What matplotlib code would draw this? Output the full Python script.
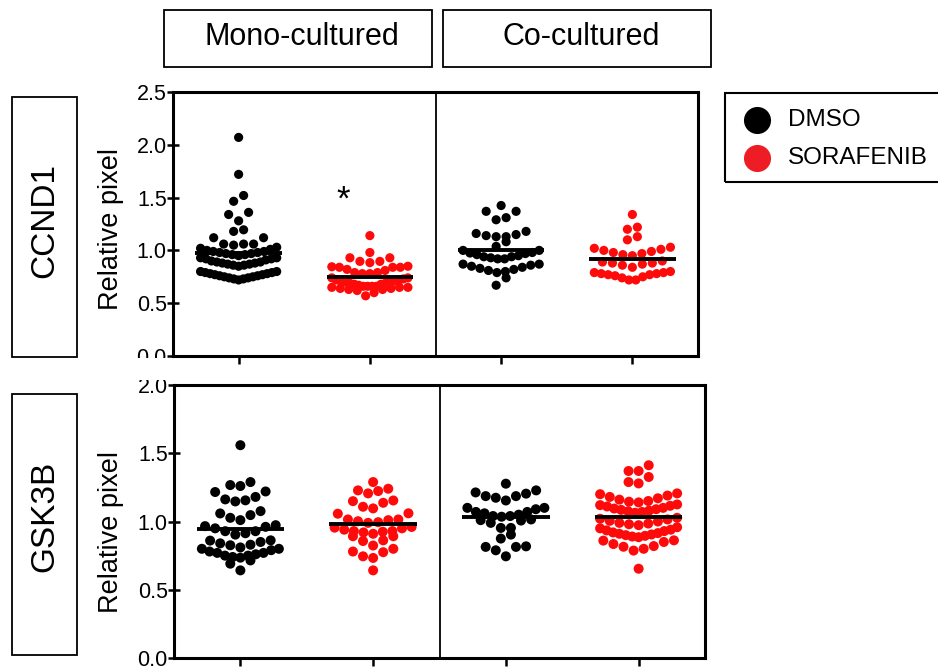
import matplotlib.pyplot as plt
from matplotlib.patches import Rectangle
from matplotlib.lines import Line2D
import numpy as np

plt.rcParams['font.family'] = ['Liberation Sans', 'DejaVu Sans']

# data (relative pixel intensity per cell)
conditions = ['Mono-cultured', 'Co-cultured']
treatments = ['DMSO', 'SORAFENIB']
genes = ['CCND1', 'GSK3B']

ccnd1_mono_dmso = [0.72, 0.73, 0.73, 0.74, 0.74, 0.75, 0.75, 0.76, 0.76, 0.77, 0.77, 0.78, 0.78,
                   0.79, 0.79, 0.80, 0.80,
                   0.85, 0.86, 0.86, 0.87, 0.87, 0.88, 0.88, 0.89, 0.89, 0.90, 0.91, 0.92, 0.92,
                   0.93, 0.93,
                   0.95, 0.96, 0.96, 0.97, 0.97, 0.98, 0.98, 0.99, 0.99, 1.00, 1.01, 1.02, 1.03,
                   1.05, 1.06, 1.06, 1.06, 1.12, 1.12, 1.18, 1.195, 1.28, 1.34, 1.36,
                   1.465, 1.52, 1.72, 2.07]
ccnd1_mono_sora = [0.57, 0.60, 0.62, 0.63, 0.63, 0.64, 0.64, 0.65, 0.65, 0.65, 0.66, 0.66, 0.66, 0.66,
                   0.67, 0.68, 0.68, 0.69, 0.69, 0.70, 0.70, 0.71, 0.71, 0.72, 0.72, 0.73, 0.74, 0.74,
                   0.78, 0.78, 0.79, 0.79, 0.81, 0.82, 0.84, 0.84, 0.84, 0.845, 0.85,
                   0.884, 0.896, 0.896, 0.93, 0.93, 0.98, 1.14]
ccnd1_co_dmso = [0.67, 0.74,
                 0.79, 0.80, 0.81, 0.82, 0.83, 0.84, 0.85, 0.86, 0.87, 0.87,
                 0.92, 0.92, 0.93, 0.94, 0.94, 0.95, 0.96, 0.97, 0.975, 0.98, 1.00, 1.00,
                 1.038, 1.082, 1.13, 1.13, 1.14, 1.15, 1.16, 1.18,
                 1.29, 1.31, 1.37, 1.37, 1.425]
ccnd1_co_sora = [0.72, 0.72, 0.74, 0.75, 0.76, 0.77, 0.77, 0.78, 0.78, 0.79, 0.79, 0.80,
                 0.84, 0.86, 0.87, 0.88, 0.88, 0.89, 0.90,
                 0.95, 0.96, 0.97, 0.98, 0.99, 1.00, 1.01, 1.02, 1.03,
                 1.10, 1.13, 1.20, 1.22, 1.34]

gsk3b_mono_dmso = [0.642, 0.691, 0.715,
                   0.735, 0.74, 0.75, 0.75, 0.76, 0.77, 0.77, 0.78, 0.79, 0.80, 0.80, 0.81,
                   0.826, 0.83, 0.84, 0.85, 0.86, 0.862,
                   0.904, 0.914, 0.929, 0.929, 0.95, 0.961, 0.966, 0.973,
                   1.01, 1.027, 1.047, 1.059, 1.076,
                   1.147, 1.155, 1.162, 1.18, 1.216, 1.22,
                   1.26, 1.267, 1.289, 1.559]
gsk3b_mono_sora = [0.642,
                   0.733, 0.745, 0.775, 0.78, 0.80,
                   0.824, 0.857, 0.862, 0.892, 0.892,
                   0.91, 0.92, 0.925, 0.93, 0.93, 0.94, 0.95, 0.955, 0.96,
                   0.99, 0.995, 1.002, 1.01, 1.015, 1.015, 1.057, 1.06,
                   1.096, 1.108, 1.137, 1.149, 1.154,
                   1.206, 1.223, 1.228, 1.24, 1.289]
gsk3b_co_dmso = [0.745, 0.789, 0.814, 0.814, 0.818,
                 0.875, 0.904,
                 0.953, 0.953, 0.99, 1.007, 1.01, 1.015,
                 1.035, 1.04, 1.04, 1.05, 1.06, 1.07, 1.07, 1.09, 1.10, 1.10,
                 1.154, 1.174, 1.186, 1.186, 1.204, 1.213, 1.228, 1.277]
gsk3b_co_sora = [0.654,
                 0.787, 0.80, 0.815, 0.82, 0.835, 0.85, 0.86, 0.862,
                 0.885, 0.89, 0.895, 0.90, 0.905, 0.91, 0.915, 0.92, 0.93, 0.935, 0.94, 0.95, 0.958,
                 0.973, 0.98, 0.985, 0.99, 1.00, 1.005, 1.015, 1.02, 1.027,
                 1.064, 1.07, 1.075, 1.08, 1.085, 1.09, 1.095, 1.10, 1.11, 1.115, 1.12, 1.125,
                 1.14, 1.145, 1.15, 1.16, 1.17, 1.18, 1.19, 1.20, 1.206,
                 1.279, 1.289, 1.326, 1.37, 1.37, 1.412]

ccnd1_groups = [ccnd1_mono_dmso, ccnd1_mono_sora, ccnd1_co_dmso, ccnd1_co_sora]
gsk3b_groups = [gsk3b_mono_dmso, gsk3b_mono_sora, gsk3b_co_dmso, gsk3b_co_sora]
colors = ['#000000', '#ff0a0a', '#000000', '#ff0a0a']

W, H = 938, 668


def px_rect(x0, y0, x1, y1):
    # pixel box (top-left origin) -> figure fraction [l, b, w, h]
    return [x0 / W, 1 - y1 / H, (x1 - x0) / W, (y1 - y0) / H]


def fx(x):
    return x / W


def fy(y):
    return 1 - y / H


def row_scatter(vals, h, step, half_w):
    # Prism-like layout: values binned into rows, lowest of each row in the middle
    v = np.sort(np.asarray(vals, dtype=float))
    dx = np.zeros_like(v)
    i = 0
    while i < len(v):
        j = i
        while j < len(v) and v[j] - v[i] <= h:
            j += 1
        n = j - i
        sp = step if n == 1 else min(step, 2 * half_w / (n - 1))
        slots = (np.arange(n) - (n - 1) / 2) * sp
        order = np.argsort(np.abs(slots), kind='stable')
        dx[i:j] = slots[order]
        i = j
    return dx, v


fig = plt.figure(figsize=(W / 100, H / 100), dpi=100)

panels = [
    (ccnd1_groups, px_rect(173, 92, 698, 356), 2.5, 0.085, 6.6),
    (gsk3b_groups, px_rect(174, 385, 705, 658), 2.0, 0.075, 7.2),
]

axes = []
for groups, rect, ymax, h, ms in panels:
    ax = fig.add_axes(rect)
    for i, vals in enumerate(groups):
        dx, v = row_scatter(vals, h, 0.076, 0.29)
        ax.scatter(i + dx, v, s=ms ** 2, color=colors[i], edgecolors='none', zorder=3, clip_on=False)
        m = np.mean(vals)
        ax.plot([i - 0.33, i + 0.33], [m, m], color='black', lw=2.8, zorder=4, solid_capstyle='butt')
    ax.axvline(1.5, color='black', lw=1.3)
    ax.set_xlim(-0.5, 3.5)
    ax.set_ylim(0, ymax)
    ax.set_yticks(np.arange(0, ymax + 0.01, 0.5))
    ax.set_yticklabels([f'{t:.1f}' for t in np.arange(0, ymax + 0.01, 0.5)])
    ax.set_xticks([0, 1, 2, 3])
    ax.set_xticklabels([])
    ax.tick_params(axis='y', direction='inout', length=9, width=1.8, labelsize=15.5, pad=0)
    ax.tick_params(axis='x', direction='out', length=6, width=1.8)
    for s in ax.spines.values():
        s.set_linewidth(2.2)
    axes.append(ax)

# significance mark
axes[0].text(0.8, 1.48, '*', fontsize=25, ha='center', va='center')

# hide lower half of the top panel's 0.0 label (cropped in the original)
fig.add_artist(Rectangle((fx(100), fy(380)), fx(171) - fx(100), fy(358) - fy(380),
                         transform=fig.transFigure, facecolor='white', edgecolor='none', zorder=10))

# y labels
fig.text(fx(111), fy(229), 'Relative pixel', rotation=90, ha='center', va='center', fontsize=19.5)
fig.text(fx(111), fy(532), 'Relative pixel', rotation=90, ha='center', va='center', fontsize=19.5)

# gene boxes on the left
for gene, (y0, y1), yc in zip(genes, [(97, 357), (394, 655)], [220, 516]):
    fig.add_artist(Rectangle((fx(12), fy(y1)), fx(77) - fx(12), fy(y0) - fy(y1),
                             transform=fig.transFigure, facecolor='none', edgecolor='black', lw=1.3))
    fig.text(fx(45), fy(yc), gene, rotation=90, ha='center', va='center', fontsize=24)

# condition header boxes
for cond, (x0, x1) in zip(conditions, [(164, 432), (443, 711)]):
    fig.add_artist(Rectangle((fx(x0), fy(67)), fx(x1) - fx(x0), fy(10) - fy(67),
                             transform=fig.transFigure, facecolor='none', edgecolor='black', lw=1.3))
    fig.text(fx((x0 + x1) / 2 + 4), fy(37), cond, ha='center', va='center', fontsize=22)

# legend
fig.add_artist(Rectangle((fx(725), fy(182)), fx(960) - fx(725), fy(93) - fy(182),
                         transform=fig.transFigure, facecolor='none', edgecolor='black', lw=1.5,
                         clip_on=False))
for lab, col, y in zip(treatments, ['#000000', '#ee1c25'], [120, 158]):
    fig.add_artist(Line2D([fx(757)], [fy(y)], marker='o', markersize=19.5, color=col,
                          markeredgecolor='none', transform=fig.transFigure))
    fig.text(fx(788), fy(y), lab, ha='left', va='center', fontsize=17.5)

fig.savefig('out.png', dpi=100)
